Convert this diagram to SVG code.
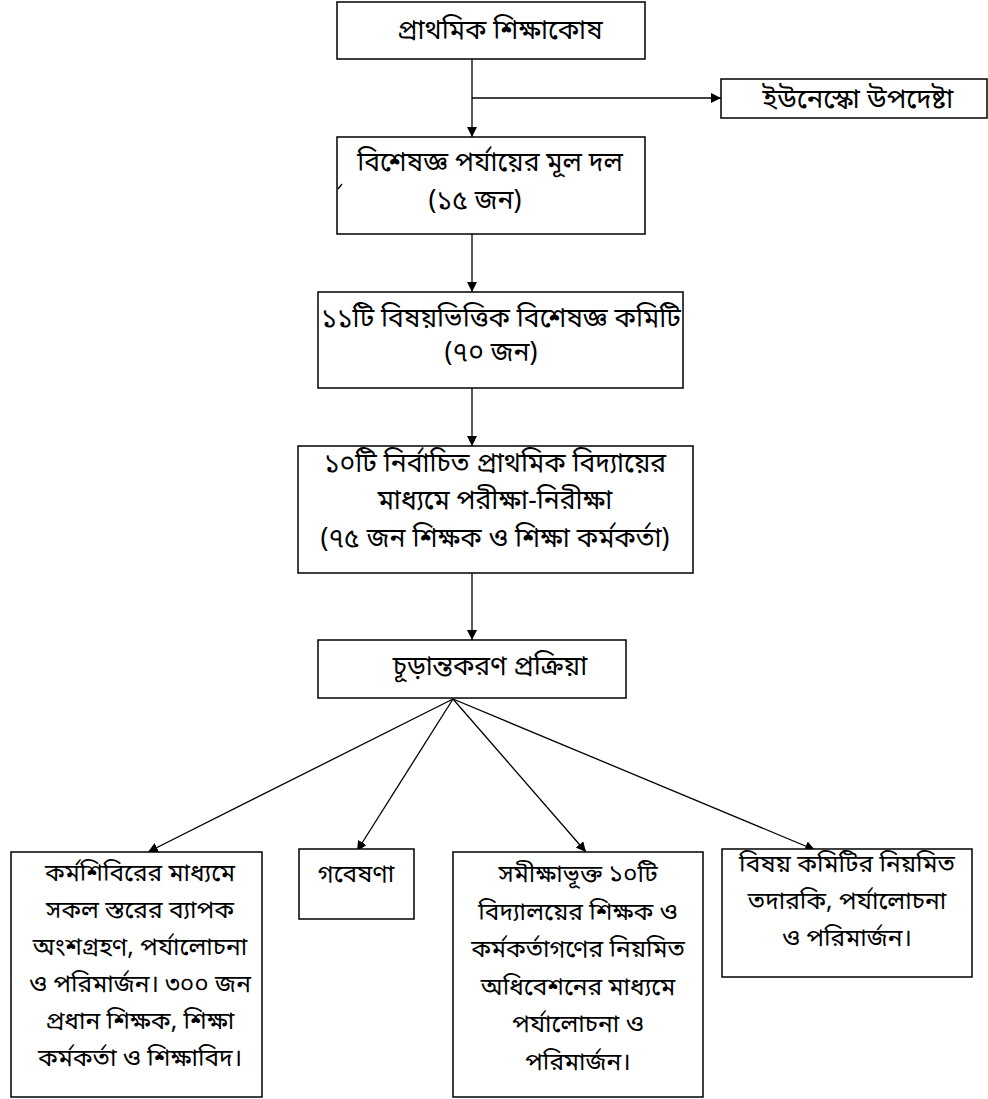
<svg xmlns="http://www.w3.org/2000/svg" width="988" height="1099" viewBox="0 0 988 1099">
<style>
.box{fill:#fff;stroke:#000;stroke-width:1.5}
.c{stroke:#000;stroke-width:1.3;fill:none}
text{font-family:"Noto Sans Bengali","Noto Serif Bengali","Lohit Bengali","FreeSans","Noto Sans",sans-serif;font-size:26.5px;fill:#000;text-anchor:middle}
.s{font-size:24.5px}
</style>
<defs>
<marker id="ah" viewBox="0 0 10 10" refX="10" refY="5" markerWidth="10" markerHeight="10" markerUnits="userSpaceOnUse" orient="auto">
<path d="M0,0 L10,5 L0,10 z" fill="#000"/>
</marker>
</defs>
<rect width="988" height="1099" fill="#fff"/>
<g id="connectors">
<line class="c" x1="472" y1="59" x2="472" y2="137" marker-end="url(#ah)"/>
<line class="c" x1="472" y1="98" x2="721" y2="98" marker-end="url(#ah)"/>
<line class="c" x1="472" y1="234" x2="472" y2="292" marker-end="url(#ah)"/>
<line class="c" x1="472" y1="388" x2="472" y2="446" marker-end="url(#ah)"/>
<line class="c" x1="472" y1="573" x2="472" y2="640" marker-end="url(#ah)"/>
<line class="c" x1="453" y1="699" x2="148" y2="852" marker-end="url(#ah)"/>
<line class="c" x1="453" y1="699" x2="357" y2="851" marker-end="url(#ah)"/>
<line class="c" x1="453" y1="699" x2="586" y2="852" marker-end="url(#ah)"/>
<line class="c" x1="453" y1="699" x2="815" y2="850" marker-end="url(#ah)"/>
</g>
<g id="n1"><rect class="box" x="337" y="2" width="308" height="57"/><text x="500" y="39">প্রাথমিক শিক্ষাকোষ</text></g>
<g id="n2"><rect class="box" x="721" y="79" width="266" height="39"/><text x="858" y="108" style="font-size:27.5px">ইউনেস্কো উপদেষ্টা</text></g>
<g id="n3"><rect class="box" x="337" y="137" width="308" height="97"/><path class="c" d="M338,189 L342,184"/><text x="490" y="171">বিশেষজ্ঞ পর্যায়ের মূল দল</text><text x="475" y="209">(১৫ জন)</text></g>
<g id="n4"><rect class="box" x="318" y="292" width="365" height="96"/><text x="501" y="327">১১টি বিষয়ভিত্তিক বিশেষজ্ঞ কমিটি</text><text x="491" y="361">(৭০ জন)</text></g>
<g id="n5"><rect class="box" x="298" y="446" width="395" height="127"/><text x="495" y="472">১০টি নির্বাচিত প্রাথমিক বিদ্যায়ের</text><text x="495" y="509">মাধ্যমে পরীক্ষা-নিরীক্ষা</text><text x="495" y="547">(৭৫ জন শিক্ষক ও শিক্ষা কর্মকর্তা)</text></g>
<g id="n6"><rect class="box" x="318" y="640" width="308" height="58"/><text x="490" y="675">চূড়ান্তকরণ প্রক্রিয়া</text></g>
<g id="n7"><rect class="box" x="11" y="852" width="251" height="245"/>
<text class="s" x="140" y="881">কর্মশিবিরের মাধ্যমে</text><text class="s" x="140" y="918">সকল স্তরের ব্যাপক</text><text class="s" x="140" y="955">অংশগ্রহণ, পর্যালোচনা</text><text class="s" x="140" y="992">ও পরিমার্জন। ৩০০ জন</text><text class="s" x="140" y="1029">প্রধান শিক্ষক, শিক্ষা</text><text class="s" x="140" y="1066">কর্মকর্তা ও শিক্ষাবিদ।</text></g>
<g id="n8"><rect class="box" x="299" y="849" width="115" height="70"/><text class="s" x="356" y="882">গবেষণা</text></g>
<g id="n9"><rect class="box" x="453" y="852" width="250" height="245"/>
<text class="s" x="578" y="882">সমীক্ষাভূক্ত ১০টি</text><text class="s" x="578" y="919.5">বিদ্যালয়ের শিক্ষক ও</text><text class="s" x="578" y="957">কর্মকর্তাগণের নিয়মিত</text><text class="s" x="578" y="994.5">অধিবেশনের মাধ্যমে</text><text class="s" x="578" y="1032">পর্যালোচনা ও</text><text class="s" x="578" y="1069.5">পরিমার্জন।</text></g>
<g id="n10"><rect class="box" x="722" y="849" width="250" height="128"/>
<text class="s" x="847" y="872">বিষয় কমিটির নিয়মিত</text><text class="s" x="847" y="909">তদারকি, পর্যালোচনা</text><text class="s" x="847" y="946">ও পরিমার্জন।</text></g>
</svg>
